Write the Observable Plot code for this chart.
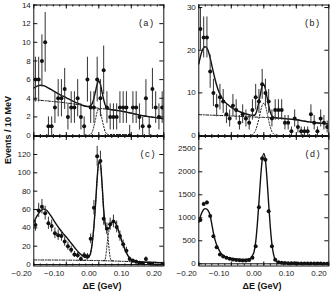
<!DOCTYPE html>
<html><head><meta charset="utf-8">
<script src="https://cdn.jsdelivr.net/npm/d3@7"></script>
<script src="https://cdn.jsdelivr.net/npm/@observablehq/plot@0.6"></script>
<style>
body{margin:0;background:#fff;}
#wrap{position:relative;width:332px;height:294px;overflow:hidden;font-family:"Liberation Sans",Arial,sans-serif;}
.lab{position:absolute;font-weight:bold;font-size:9px;color:#111;white-space:nowrap;transform:translate(-50%,-50%);}
.let{position:absolute;font-family:"Liberation Mono","DejaVu Sans Mono",monospace;font-size:9px;color:#222;white-space:nowrap;transform:translate(-50%,-50%);}
</style></head><body><div id="wrap"></div>
<script>
// ---- data ----
const binX = [-0.195,-0.185,-0.175,-0.165,-0.155,-0.145,-0.135,-0.125,-0.115,-0.105,-0.095,-0.085,-0.075,-0.065,-0.055,-0.045,-0.035,-0.025,-0.015,-0.005,0.005,0.015,0.025,0.035,0.045,0.055,0.065,0.075,0.085,0.095,0.105,0.115,0.125,0.135,0.145,0.155,0.165,0.175,0.185,0.195];
const xMinor = [-0.2,-0.18,-0.16,-0.14,-0.12,-0.1,-0.08,-0.06,-0.04,-0.02,0,0.02,0.04,0.06,0.08,0.1,0.12,0.14,0.16,0.18,0.2];
const xMajor = [-0.2,-0.1,0,0.1,0.2];
const aYTicks = [0,2,4,6,8,10,12,14];
const bYTicks = [0,10,20,30];
const cYTicks = [0,20,40,60,80,100,120];
const dYTicks = [0,500,1000,1500,2000,2500];

// panel (a)
const aY   = [6,6,8,10,1,1,3,4,4,5,2,3,3,4,2,1,6,3,3,6,4,7,3,2,2,2,3,3,3,0,3,3,2,1,4,1,5,3,2,3];
const aErr = [2.4,2.4,2.8,3.2,1,1,1.7,2,2,2.2,1.4,1.7,1.7,2,1.4,1,2.4,1.7,1.7,2.4,2,2.6,1.7,1.4,1.4,1.4,1.7,1.7,1.7,1.1,1.7,1.7,1.4,1,2,1,2.2,1.7,1.4,1.7];
const aCx    = [-0.2,-0.19,-0.18,-0.17,-0.16,-0.15,-0.14,-0.12,-0.10,-0.08,-0.06,-0.04,-0.03,-0.02,-0.01,-0.005,0,0.005,0.01,0.02,0.03,0.04,0.06,0.08,0.10,0.12,0.14,0.16,0.18,0.2];
const aTotal = [5.1,5.3,5.4,5.35,5.2,5.0,4.8,4.4,4.05,3.7,3.4,3.15,3.12,3.45,4.75,5.5,5.85,5.5,4.65,3.25,2.85,2.77,2.68,2.55,2.4,2.25,2.1,2.0,1.9,1.8];
const aBkg   = [3.85,3.82,3.78,3.75,3.72,3.68,3.65,3.58,3.5,3.4,3.3,3.15,3.08,3.02,2.97,2.95,2.92,2.9,2.88,2.85,2.8,2.77,2.68,2.55,2.4,2.25,2.1,2.0,1.9,1.8];
const aSx    = [-0.04,-0.03,-0.02,-0.015,-0.01,-0.005,0,0.005,0.01,0.015,0.02,0.03,0.04,0.06,0.08,0.1];
const aSig   = [0,0.05,0.4,1.0,1.75,2.55,2.9,2.55,1.75,1.0,0.4,0.1,0.12,0.12,0.1,0.08];

// panel (b)
const bY   = [25,23,23,15,10,7,9,8,5,4,7,6,3,5,4,3,6,9,8,12,10,8,4,6,6,6,3,3,1,4,2,1,1,1,5,3,1,4,3,2];
const bErr = [5,4.8,4.8,3.9,3.2,2.6,3,2.8,2.2,2,2.6,2.4,1.7,2.2,2,1.7,2.4,3,2.8,3.5,3.2,2.8,2,2.4,2.4,2.4,1.7,1.7,1,2,1.4,1,1,1,2.2,1.7,1,2,1.7,1.4];
const bCx    = [-0.2,-0.195,-0.19,-0.185,-0.18,-0.175,-0.17,-0.165,-0.16,-0.155,-0.15,-0.145,-0.14,-0.13,-0.12,-0.11,-0.10,-0.08,-0.06,-0.04,-0.03,-0.025,-0.02,-0.015,-0.01,-0.005,0,0.005,0.01,0.015,0.02,0.025,0.03,0.04,0.06,0.08,0.10,0.12,0.14,0.16,0.18,0.2];
const bTotal = [16.8,18.5,19.8,20.6,20.8,20.5,19.6,18.2,16.5,14.8,13.2,11.8,10.6,9.0,7.9,7.2,6.6,5.8,5.2,4.8,4.75,5.1,6.2,7.9,9.9,11.6,11.9,10.9,9.0,7.0,5.5,4.6,4.3,4.15,4.0,3.85,3.7,3.45,3.2,3.0,2.85,2.7];
const bBx    = [-0.2,-0.15,-0.10,-0.06,-0.03,0,0.03,0.06,0.08,0.10,0.12,0.14,0.16,0.18,0.2];
const bBkg   = [4.9,4.75,4.6,4.45,4.35,4.25,4.15,4.0,3.85,3.7,3.45,3.2,3.0,2.85,2.7];
const bSx    = [-0.045,-0.035,-0.03,-0.025,-0.02,-0.015,-0.01,-0.005,0,0.005,0.01,0.015,0.02,0.025,0.03,0.035,0.04];
const bSig   = [0,0.2,0.6,1.3,2.5,4.0,5.7,7.1,7.6,7.0,5.4,3.6,2.0,0.9,0.4,0.1,0];

// panel (c)
const cY   = [43,59,63,56,45,42,34,32,31,25,20,16,11,10,6,10,9,28,62,118,113,50,39,44,47,41,31,22,15,6,4,3,2,1,6,1,0,-1,-1,0];
const cErr = [6.6,7.7,7.9,7.5,6.7,6.5,5.8,5.7,5.6,5,4.5,4,3.3,3.2,2.4,3.2,3,5.3,7.9,10.9,10.6,7.1,6.2,6.6,6.9,6.4,5.6,4.7,3.9,2.4,2,1.7,1.4,1,2.4,1,1,1,1,1];
const cCx    = [-0.2,-0.19,-0.18,-0.17,-0.16,-0.15,-0.14,-0.13,-0.12,-0.11,-0.10,-0.09,-0.08,-0.07,-0.06,-0.05,-0.04,-0.035,-0.03,-0.025,-0.02,-0.015,-0.01,-0.005,0,0.005,0.01,0.015,0.02,0.025,0.03,0.035,0.04,0.045,0.05,0.055,0.06,0.065,0.07,0.075,0.08,0.085,0.09,0.095,0.10,0.11,0.12,0.13,0.14,0.16,0.18,0.2];
const cTotal = [46,53,58,60.5,59,54.5,49,43.5,38.5,34,30,25.5,21,16.5,12.5,9.5,7.5,7.3,8.5,13,24,42,66,94,112,110,88,60,44,39,39.5,42,45.5,47,46,42.5,37.5,32,26.5,21.5,17,13,9.5,7,5.2,3.8,3.0,2.7,2.5,2.3,2.1,2.0];
const cBx    = [-0.2,-0.1,0,0.1,0.2];
const cBkg   = [5.0,4.8,4.3,3.2,2.2];
const cS1x   = [-0.045,-0.04,-0.035,-0.03,-0.025,-0.02,-0.015,-0.01,-0.005,0,0.005,0.01,0.015,0.02,0.024,0.028,0.032,0.036,0.04,0.045];
const cSig1  = [4.5,5,6,8,12,23,41,65,93,111,109,87,59,43,36,30,16,6,4.3,4.2];
const cS2x   = [0.014,0.018,0.021,0.024,0.028,0.032,0.036,0.04,0.045,0.05,0.06,0.07,0.08,0.09,0.10,0.11];
const cSig2  = [4.2,4.6,8,17,30,38,43,45.5,47,46,37.5,26.5,17,9.5,5.2,3.8];

// panel (d)
const dY   = [950,1300,1330,1040,600,360,200,160,130,110,95,85,75,72,72,85,130,380,1230,2290,2260,1140,380,90,36,22,15,12,10,10,8,8,6,6,5,5,4,4,3,3];
const dErr = [31,36,36,32,24,19,14,13,11,10,10,9,9,8.5,8.5,9,11,19,35,48,48,34,19,9.5,6,4.7,3.9,3.5,3.2,3.2,2.8,2.8,2.4,2.4,2.2,2.2,2,2,1.7,1.7];
const dCx    = [-0.2,-0.195,-0.19,-0.185,-0.18,-0.175,-0.17,-0.165,-0.16,-0.155,-0.15,-0.145,-0.14,-0.135,-0.13,-0.12,-0.11,-0.10,-0.08,-0.06,-0.05,-0.04,-0.035,-0.03,-0.025,-0.02,-0.015,-0.01,-0.005,0,0.005,0.01,0.015,0.02,0.025,0.03,0.035,0.04,0.05,0.06,0.08,0.10,0.15,0.2];
const dTotal = [900,1030,1120,1180,1200,1185,1140,1050,860,670,520,410,330,265,215,160,130,115,100,95,100,125,180,260,470,850,1330,1850,2250,2400,2250,1830,1300,800,430,205,95,50,25,15,8,5,3,2];

// ---- drawing ----
const fmt = d3.format(".2f");
const wrap = document.getElementById("wrap");
const pts = (ys, es) => binX.map((x, i) => ({x, y: ys[i], e: es[i]}));
const xy = (xs, ys) => xs.map((x, i) => ({x, y: ys[i]}));

function panel(cfg) {
  const {left, top, width, height, mL, mR, mT, mB, yDomain, yTicks, showX, data, curves} = cfg;
  const W = width - mL - mR, H = height - mT - mB;
  const marks = [];
  for (const c of curves) {
    marks.push(Plot.line(c.d, {x: "x", y: "y", stroke: "#111", strokeWidth: c.w, strokeDasharray: c.dash, curve: "monotone-x", clip: true}));
  }
  marks.push(Plot.ruleX(data, {x: "x", y1: d => Math.max(yDomain[0], d.y - d.e), y2: d => d.y + d.e, stroke: "#333", strokeWidth: 1, clip: true}));
  marks.push(Plot.dot(data, {x: "x", y: "y", r: 2, fill: "#111", stroke: "none", clip: true}));
  marks.push(Plot.ruleY([0], {stroke: "#111", strokeWidth: 1}));
  marks.push(Plot.ruleX(xMinor, {insetTop: H - 2, stroke: "#111"}));
  marks.push(Plot.ruleX(xMinor, {insetBottom: H - 2, stroke: "#111"}));
  marks.push(Plot.ruleX(xMajor, {insetTop: H - 4, stroke: "#111"}));
  marks.push(Plot.ruleX(xMajor, {insetBottom: H - 4, stroke: "#111"}));
  marks.push(Plot.ruleY(yTicks, {insetRight: W - 4, stroke: "#111"}));
  marks.push(Plot.ruleY(yTicks, {insetLeft: W - 4, stroke: "#111"}));
  marks.push(Plot.frame({stroke: "#111", strokeWidth: 1}));
  marks.push(Plot.axisY(yTicks, {anchor: "left", tickSize: 0, tickPadding: 3, label: null, tickFormat: d => String(d), fontSize: 8, color: "#222"}));
  if (showX) marks.push(Plot.axisX(xMajor, {anchor: "bottom", tickSize: 0, tickPadding: 4, label: null, tickFormat: fmt, textAnchor: "end", dx: -2, fontSize: 8, color: "#222"}));
  const svg = Plot.plot({
    width, height, marginLeft: mL, marginRight: mR, marginTop: mT, marginBottom: mB,
    x: {domain: [-0.2, 0.2], axis: null},
    y: {domain: yDomain, axis: null},
    style: {background: "none", fontFamily: "'Liberation Sans', Arial, sans-serif", fontSize: "8px", overflow: "visible", color: "#222"},
    marks
  });
  svg.style.position = "absolute";
  svg.style.left = left + "px";
  svg.style.top = top + "px";
  wrap.appendChild(svg);
}

const dotted = "1.2,1.8", dashdot = "3,1.5,1,1.5";

panel({left: 0, top: 0, width: 166, height: 140, mL: 33.3, mR: 2.7, mT: 4.5, mB: 4,
  yDomain: [-0.1, 14], yTicks: aYTicks, showX: false, data: pts(aY, aErr),
  curves: [{d: xy(aCx, aBkg), w: 1, dash: dashdot}, {d: xy(aSx, aSig), w: 1, dash: dotted}, {d: xy(aCx, aTotal), w: 1.4}]});
panel({left: 166, top: 0, width: 166, height: 140, mL: 32.3, mR: 3.7, mT: 4.5, mB: 4,
  yDomain: [-0.22, 30.6], yTicks: bYTicks, showX: false, data: pts(bY, bErr),
  curves: [{d: xy(bBx, bBkg), w: 1, dash: dashdot}, {d: xy(bSx, bSig), w: 1, dash: dotted}, {d: xy(bCx, bTotal), w: 1.4}]});
panel({left: 0, top: 130, width: 166, height: 164, mL: 33.3, mR: 2.7, mT: 6, mB: 28.5,
  yDomain: [-1.6, 139.6], yTicks: cYTicks, showX: true, data: pts(cY, cErr),
  curves: [{d: xy(cBx, cBkg), w: 1, dash: dashdot}, {d: xy(cS1x, cSig1), w: 1, dash: dotted}, {d: xy(cS2x, cSig2), w: 1, dash: dotted}, {d: xy(cCx, cTotal), w: 1.4}]});
panel({left: 166, top: 130, width: 166, height: 164, mL: 32.3, mR: 3.7, mT: 6, mB: 28.5,
  yDomain: [-48, 2767], yTicks: dYTicks, showX: true, data: pts(dY, dErr),
  curves: [{d: xy(dCx, dTotal), w: 1.4}]});

function label(text, x, y, cls, rot) {
  const el = document.createElement("div");
  el.className = cls;
  el.textContent = text;
  el.style.left = x + "px";
  el.style.top = y + "px";
  if (rot) el.style.transform = "translate(-50%,-50%) rotate(-90deg)";
  wrap.appendChild(el);
}
label("(a)", 146, 24, "let");
label("(b)", 312, 24, "let");
label("(c)", 147.5, 155, "let");
label("(d)", 312.5, 155, "let");
label("Events / 10 MeV", 8, 130, "lab", true);
label("ΔE (GeV)", 102, 286, "lab");
label("ΔE (GeV)", 262, 286, "lab");
</script></body></html>
